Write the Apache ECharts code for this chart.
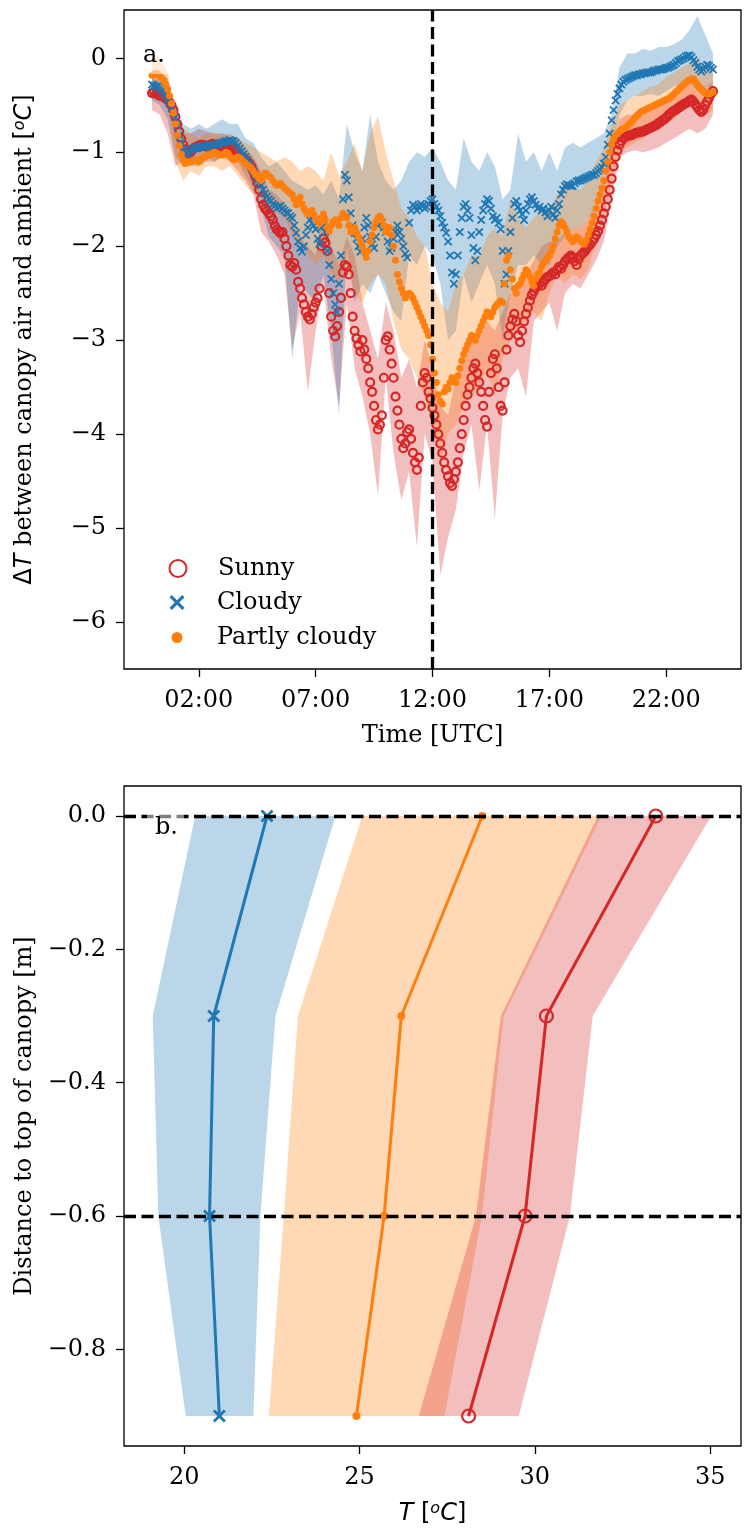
<!DOCTYPE html>
<html>
<head>
<meta charset="utf-8">
<script src="https://cdn.jsdelivr.net/npm/echarts@6/dist/echarts.min.js"></script>
<style>
  html, body { margin: 0; padding: 0; background: #fff; }
  #chart { width: 752px; height: 1532px; }
</style>
</head>
<body>
<div id="chart"></div>
<script>
// ---- panel a: mean dT every 5 minutes (00:00 .. 24:00), one row = one hour ----
const sunny = [
  -0.37, -0.36, -0.38, -0.38, -0.40, -0.39, -0.41, -0.43, -0.44, -0.47, -0.50, -0.55,
  -0.62, -0.70, -0.78, -0.86, -0.92, -0.97, -1.00, -1.02, -0.99, -0.97, -0.95, -0.94,
  -0.93, -0.92, -0.92, -0.93, -0.94, -0.93, -0.92, -0.91, -0.93, -0.94, -0.93, -0.95,
  -0.94, -0.95, -0.94, -0.96, -0.97, -0.96, -0.98, -0.99, -1.01, -1.03, -1.05, -1.06,
  -1.08, -1.10, -1.12, -1.15, -1.20, -1.26, -1.32, -1.40, -1.50, -1.56, -1.60, -1.62,
  -1.65, -1.68, -1.72, -1.78, -1.82, -1.84, -1.86, -1.85, -1.92, -2.00, -2.10, -2.20,
  -2.22, -2.18, -2.25, -2.38, -2.45, -2.55, -2.62, -2.70, -2.75, -2.78, -2.72, -2.65,
  -2.60, -2.55, -2.45, -2.00, -1.92, -1.96, -2.05, -2.50, -2.75, -2.90, -2.96, -2.85,
  -2.70, -2.55, -2.28, -2.20, -2.22, -2.30, -2.50, -2.75, -2.90, -2.98, -3.05, -3.12,
  -3.00, -3.10, -3.20, -3.30, -3.45, -3.55, -3.70, -3.85, -3.95, -3.90, -3.80, -3.40,
  -3.00, -2.96, -3.10, -3.25, -3.40, -3.60, -3.75, -3.90, -4.05, -4.15, -4.10, -3.98,
  -3.95, -4.05, -4.20, -4.30, -4.38, -4.25, -3.70, -3.45, -3.35, -3.40, -3.55, -3.62,
  -3.72, -3.80, -3.90, -4.00, -4.10, -4.20, -4.30, -4.38, -4.45, -4.52, -4.55, -4.48,
  -4.40, -4.30, -4.15, -4.00, -3.85, -3.70, -3.58, -3.50, -3.40, -3.30, -3.25, -3.35,
  -3.45, -3.55, -3.70, -3.85, -3.92, -3.55, -3.35, -3.20, -3.15, -3.30, -3.50, -3.70,
  -3.75, -3.45, -3.10, -2.95, -2.85, -2.78, -2.72, -2.80, -2.95, -3.02, -2.90, -2.80,
  -2.72, -2.65, -2.58, -2.52, -2.48, -2.44, -2.42, -2.40, -2.42, -2.38, -2.35, -2.33,
  -2.32, -2.30, -2.28, -2.30, -2.25, -2.22, -2.24, -2.20, -2.16, -2.14, -2.12, -2.10,
  -2.12, -2.16, -2.20, -2.14, -2.10, -2.08, -2.06, -2.03, -2.00, -1.98, -1.95, -1.92,
  -1.88, -1.84, -1.78, -1.72, -1.65, -1.58, -1.50, -1.40, -1.28, -1.15, -1.05, -0.98,
  -0.92, -0.88, -0.85, -0.84, -0.83, -0.82, -0.82, -0.81, -0.80, -0.79, -0.79, -0.78,
  -0.78, -0.77, -0.76, -0.75, -0.74, -0.73, -0.72, -0.71, -0.69, -0.68, -0.66, -0.65,
  -0.63, -0.61, -0.59, -0.57, -0.56, -0.55, -0.53, -0.52, -0.50, -0.49, -0.48, -0.47,
  -0.45, -0.44, -0.46, -0.49, -0.52, -0.55, -0.57, -0.55, -0.50, -0.46, -0.42, -0.38,
  -0.35
];
const cloudy = [
  -0.28, -0.29, -0.30, -0.30, -0.32, -0.34, -0.37, -0.40, -0.44, -0.48, -0.53, -0.58,
  -0.63, -0.72, -0.82, -0.90, -0.97, -1.00, -1.02, -1.00, -0.98, -0.96, -0.95, -0.96,
  -0.95, -0.94, -0.93, -0.95, -0.94, -0.93, -0.92, -0.93, -0.92, -0.91, -0.92, -0.90,
  -0.90, -0.89, -0.88, -0.88, -0.87, -0.88, -0.88, -0.90, -0.93, -0.96, -0.99, -1.02,
  -1.05, -1.08, -1.12, -1.16, -1.20, -1.25, -1.30, -1.32, -1.35, -1.40, -1.44, -1.47,
  -1.50, -1.52, -1.55, -1.57, -1.60, -1.58, -1.57, -1.60, -1.62, -1.64, -1.65, -1.68,
  -1.70, -1.78, -1.86, -1.95, -2.02, -2.06, -2.00, -1.88, -1.80, -1.72, -1.70, -1.78,
  -1.82, -1.92, -1.98, -1.80, -1.72, -1.85, -2.05, -2.20, -2.35, -2.50, -2.62, -2.70,
  -2.40, -2.10, -1.50, -1.24, -1.30, -1.48, -1.65, -1.78, -1.86, -1.92, -2.00, -2.06,
  -1.92, -1.80, -1.70, -1.78, -1.90, -1.98, -2.02, -1.90, -1.78, -1.72, -1.75, -1.80,
  -1.85, -1.95, -2.05, -2.02, -1.92, -1.85, -1.78, -1.85, -1.92, -2.00, -2.08, -2.12,
  -1.75, -1.62, -1.56, -1.58, -1.62, -1.58, -1.55, -1.57, -1.60, -1.58, -1.55, -1.52,
  -1.50, -1.55, -1.58, -1.62, -1.68, -1.75, -1.80, -1.86, -1.95, -2.10, -2.28, -2.40,
  -2.30, -2.10, -1.85, -1.70, -1.58, -1.55, -1.62, -1.70, -1.88, -2.02, -2.15, -2.05,
  -1.85, -1.72, -1.62, -1.55, -1.50, -1.52, -1.60, -1.68, -1.72, -1.70, -1.75, -1.82,
  -2.05, -2.40, -2.30, -2.05, -1.85, -1.70, -1.55, -1.52, -1.58, -1.62, -1.66, -1.72,
  -1.62, -1.55, -1.50, -1.48, -1.52, -1.56, -1.60, -1.58, -1.62, -1.60, -1.64, -1.68,
  -1.62, -1.58, -1.66, -1.70, -1.62, -1.55, -1.45, -1.40, -1.36, -1.34, -1.35, -1.36,
  -1.36, -1.33, -1.31, -1.30, -1.30, -1.29, -1.28, -1.27, -1.26, -1.25, -1.24, -1.24,
  -1.22, -1.20, -1.18, -1.16, -1.12, -1.05, -0.92, -0.80, -0.66, -0.55, -0.45, -0.38,
  -0.32, -0.28, -0.25, -0.23, -0.22, -0.21, -0.20, -0.19, -0.18, -0.18, -0.17, -0.17,
  -0.16, -0.16, -0.15, -0.15, -0.15, -0.14, -0.13, -0.13, -0.12, -0.12, -0.12, -0.11,
  -0.10, -0.10, -0.09, -0.08, -0.07, -0.05, -0.03, -0.02, -0.01, 0.00, 0.02, 0.03,
  0.03, 0.01, -0.02, -0.05, -0.09, -0.12, -0.14, -0.12, -0.09, -0.07, -0.08, -0.10,
  -0.12
];
const partly = [
  -0.18, -0.17, -0.16, -0.17, -0.19, -0.21, -0.24, -0.28, -0.33, -0.40, -0.48, -0.58,
  -0.70, -0.82, -0.93, -1.02, -1.08, -1.12, -1.11, -1.10, -1.10, -1.09, -1.08, -1.09,
  -1.10, -1.08, -1.06, -1.05, -1.04, -1.03, -1.02, -1.01, -1.00, -1.01, -1.02, -1.03,
  -1.03, -1.02, -1.00, -1.01, -1.04, -1.06, -1.08, -1.07, -1.05, -1.06, -1.08, -1.10,
  -1.12, -1.14, -1.15, -1.17, -1.20, -1.23, -1.25, -1.28, -1.30, -1.26, -1.22, -1.23,
  -1.25, -1.27, -1.30, -1.33, -1.35, -1.34, -1.33, -1.36, -1.38, -1.40, -1.42, -1.44,
  -1.45, -1.50, -1.56, -1.52, -1.48, -1.55, -1.60, -1.63, -1.66, -1.64, -1.62, -1.66,
  -1.70, -1.73, -1.76, -1.70, -1.66, -1.72, -1.80, -1.84, -1.78, -1.74, -1.72, -1.75,
  -1.78, -1.70, -1.65, -1.67, -1.70, -1.78, -1.85, -1.82, -1.80, -1.86, -1.90, -1.95,
  -2.00, -2.06, -2.12, -2.05, -1.95, -1.88, -1.80, -1.74, -1.70, -1.68, -1.72, -1.78,
  -1.85, -1.82, -1.80, -1.88, -2.00, -2.15, -2.30, -2.38, -2.45, -2.50, -2.55, -2.52,
  -2.50, -2.52, -2.55, -2.60, -2.65, -2.70, -2.75, -2.80, -2.85, -2.90, -2.95, -3.05,
  -3.20, -3.35, -3.45, -3.58, -3.65, -3.68, -3.55, -3.50, -3.52, -3.45, -3.40, -3.42,
  -3.45, -3.38, -3.30, -3.22, -3.15, -3.10, -3.05, -3.00, -2.95, -2.98, -3.00, -2.95,
  -2.90, -2.85, -2.80, -2.75, -2.70, -2.72, -2.75, -2.70, -2.65, -2.62, -2.60, -2.58,
  -2.60, -2.40, -2.15, -2.10, -2.25, -2.35, -2.45, -2.50, -2.42, -2.40, -2.35, -2.30,
  -2.25, -2.28, -2.32, -2.38, -2.42, -2.35, -2.30, -2.28, -2.22, -2.18, -2.15, -2.12,
  -2.10, -2.05, -2.00, -1.92, -1.85, -1.78, -1.74, -1.76, -1.80, -1.85, -1.90, -1.92,
  -1.95, -1.92, -1.90, -1.92, -1.94, -1.96, -1.98, -1.94, -1.88, -1.82, -1.75, -1.68,
  -1.60, -1.52, -1.45, -1.38, -1.30, -1.20, -1.10, -1.00, -0.92, -0.86, -0.82, -0.80,
  -0.78, -0.76, -0.75, -0.74, -0.72, -0.70, -0.68, -0.66, -0.63, -0.61, -0.59, -0.57,
  -0.56, -0.55, -0.54, -0.53, -0.52, -0.51, -0.50, -0.49, -0.48, -0.47, -0.46, -0.45,
  -0.44, -0.43, -0.42, -0.40, -0.38, -0.36, -0.34, -0.32, -0.30, -0.28, -0.26, -0.24,
  -0.23, -0.22, -0.22, -0.25, -0.28, -0.31, -0.33, -0.35, -0.37, -0.38, -0.38, -0.37,
  -0.36
];

// spread bands per 20 minutes, one row = one hour
const sunnyLo = [
  -0.55, -0.60, -0.80,  -1.15, -1.10, -1.05,  -1.10, -1.05, -1.10,  -1.05, -1.10, -1.20,
  -1.30, -1.45, -1.85,  -1.95, -2.10, -2.30,  -3.10, -2.70, -3.55,  -2.90, -2.40, -3.20,
  -3.70, -2.60, -3.30,  -3.60, -4.00, -4.65,  -3.40, -4.20, -4.70,  -4.40, -5.20, -4.00,
  -4.30, -5.50, -5.10,  -4.80, -4.20, -3.90,  -4.60, -3.90, -4.90,  -3.80, -3.40, -3.30,
  -3.60, -2.80, -2.70,  -2.60, -2.90, -2.50,  -2.40, -2.45, -2.30,  -2.15, -1.95, -1.50,
  -1.05, -1.00, -0.98,  -1.00, -0.98, -0.95,  -0.90, -0.85, -0.80,  -0.75, -0.80, -0.75,
  -0.60
];
const sunnyHi = [
  -0.20, -0.25, -0.30,  -0.55, -0.80, -0.80,  -0.75, -0.78, -0.80,  -0.80, -0.82, -0.85,
  -0.95, -1.05, -1.20,  -1.40, -1.45, -1.55,  -1.70, -1.90, -2.00,  -2.10, -1.60, -2.00,
  -2.20, -1.90, -2.10,  -2.60, -2.90, -3.20,  -2.60, -2.90, -3.40,  -3.20, -3.50, -3.00,
  -3.30, -3.70, -3.80,  -3.40, -3.20, -2.90,  -3.00, -2.80, -2.90,  -2.70, -2.50, -2.40,
  -2.30, -2.15, -2.00,  -1.95, -1.95, -1.85,  -1.80, -1.80, -1.70,  -1.55, -1.35, -1.00,
  -0.65, -0.60, -0.60,  -0.55, -0.50, -0.45,  -0.40, -0.35, -0.30,  -0.25, -0.25, -0.30,
  -0.25
];
const cloudyLo = [
  -0.45, -0.50, -0.65,  -1.05, -1.15, -1.15,  -1.15, -1.10, -1.10,  -1.05, -1.05, -1.10,
  -1.25, -1.40, -1.60,  -1.90, -2.00, -2.10,  -3.20, -2.40, -2.50,  -2.60, -2.30, -2.90,
  -3.80, -2.00, -2.60,  -2.40, -2.50, -2.30,  -2.50, -2.70, -2.80,  -2.10, -2.20, -2.00,
  -2.10, -2.40, -3.00,  -2.90, -2.30, -2.60,  -2.40, -2.20, -2.40,  -3.00, -2.50, -2.20,
  -2.20, -2.10, -2.20,  -2.20, -2.00, -1.90,  -1.80, -1.80, -1.70,  -1.60, -1.40, -1.10,
  -0.60, -0.45, -0.40,  -0.40, -0.38, -0.40,  -0.35, -0.30, -0.28,  -0.25, -0.35, -0.30,
  -0.30
];
const cloudyHi = [
  -0.15, -0.15, -0.20,  -0.60, -0.70, -0.75,  -0.70, -0.75, -0.70,  -0.65, -0.70, -0.70,
  -0.85, -0.90, -1.05,  -1.15, -1.10, -1.20,  -1.30, -1.35, -1.40,  -1.35, -1.45, -1.30,
  -1.50, -0.70, -1.00,  -1.20, -0.60, -1.10,  -1.30, -1.40, -1.30,  -1.10, -1.00, -1.05,
  -0.95, -1.10, -1.30,  -1.40, -0.85, -1.10,  -1.20, -1.00, -1.15,  -1.50, -1.40, -0.80,
  -1.10, -1.00, -1.20,  -1.00, -1.20, -0.95,  -0.90, -0.95, -0.90,  -0.85, -0.80, -0.60,
  -0.10, 0.05, 0.05,  0.10, 0.08, 0.12,  0.12, 0.15, 0.20,  0.30, 0.45, 0.25,
  0.05
];
const partlyLo = [
  -0.30, -0.35, -0.55,  -1.10, -1.30, -1.20,  -1.25, -1.15, -1.15,  -1.20, -1.15, -1.25,
  -1.35, -1.45, -1.45,  -1.60, -1.65, -1.70,  -1.90, -1.95, -2.10,  -2.20, -2.10, -2.30,
  -2.40, -2.20, -2.50,  -2.60, -2.40, -2.30,  -2.40, -2.80, -3.10,  -3.20, -3.40, -3.60,
  -3.90, -4.30, -4.00,  -3.90, -3.70, -3.60,  -3.50, -3.30, -3.60,  -3.20, -3.00, -2.90,
  -2.80, -2.70, -2.80,  -2.50, -2.30, -2.40,  -2.30, -2.35, -2.25,  -1.95, -1.70, -1.30,
  -1.00, -0.95, -0.90,  -0.85, -0.80, -0.75,  -0.70, -0.65, -0.55,  -0.50, -0.55, -0.60,
  -0.55
];
const partlyHi = [
  0.05, 0.00, -0.15,  -0.55, -0.75, -0.80,  -0.85, -0.80, -0.80,  -0.82, -0.80, -0.85,
  -0.90, -0.95, -1.00,  -1.05, -1.10, -1.05,  -1.10, -1.20, -1.15,  -1.20, -1.30, -1.00,
  -1.25, -1.10, -0.90,  -1.20, -0.80, -0.62,  -1.00, -1.30, -1.60,  -1.70, -1.90, -2.00,
  -2.40, -2.60, -2.70,  -2.40, -2.30, -2.10,  -2.10, -1.90, -1.80,  -1.90, -1.50, -1.70,
  -1.80, -1.70, -1.60,  -1.60, -1.45, -1.30,  -1.40, -1.40, -1.30,  -1.10, -0.95, -0.70,
  -0.50, -0.45, -0.40,  -0.35, -0.30, -0.28,  -0.20, -0.15, -0.10,  -0.05, 0.00, -0.10,
  -0.15
];

const timeTicks = [2, 7, 12, 17, 22];
const dTTicks = [-6, -5, -4, -3, -2, -1, 0];
const noonLine = 12;

// ---- panel b: profiles ----
const depth = [0, -0.3, -0.6, -0.9];
const profSunny = [33.45, 30.33, 29.72, 28.11];
const profSunnyLo = [31.80, 29.03, 28.32, 26.69];
const profSunnyHi = [35.03, 31.65, 31.00, 29.54];
const profCloudy = [22.36, 20.84, 20.72, 21.00];
const profCloudyLo = [20.31, 19.10, 19.26, 20.04];
const profCloudyHi = [24.31, 22.60, 22.17, 21.97];
const profPartly = [28.50, 26.19, 25.70, 24.91];
const profPartlyLo = [25.08, 23.24, 22.84, 22.41];
const profPartlyHi = [31.90, 29.11, 28.49, 27.42];
const tempTicks = [20, 25, 30, 35];
const depthTicks = [0, -0.2, -0.4, -0.6, -0.8];
const refDepths = [0, -0.6];

const RED = '#d62728', BLUE = '#1f77b4', ORANGE = '#ff7f0e';
const SERIF = '"DejaVu Serif", serif';
const SANS = '"DejaVu Sans", sans-serif';
const XMARK = 'path://M1.5,0 L5,3.5 L8.5,0 L10,1.5 L6.5,5 L10,8.5 L8.5,10 L5,6.5 L1.5,10 L0,8.5 L3.5,5 L0,1.5 Z';

const minus = (s) => String(s).replace('-', '\u2212');

const chart = echarts.init(document.getElementById('chart'));

// band in panel a, built from the lo/hi arrays through the axes
function timeBand(lo, hi, color) {
  return {
    type: 'custom', xAxisIndex: 0, yAxisIndex: 0, silent: true, z: 1,
    data: [[0, 0]],
    renderItem: function (params, api) {
      const pts = [];
      for (let i = 0; i < hi.length; i++) pts.push(api.coord([i / 3, hi[i]]));
      for (let i = lo.length - 1; i >= 0; i--) pts.push(api.coord([i / 3, lo[i]]));
      return { type: 'polygon', shape: { points: pts }, style: { fill: color, opacity: 0.3 } };
    }
  };
}

// band in panel b (horizontal spread at each depth)
function depthBand(lo, hi, color) {
  return {
    type: 'custom', xAxisIndex: 1, yAxisIndex: 1, silent: true, z: 1,
    data: [[0, 0]],
    renderItem: function (params, api) {
      const pts = [];
      for (let i = 0; i < depth.length; i++) pts.push(api.coord([lo[i], depth[i]]));
      for (let i = depth.length - 1; i >= 0; i--) pts.push(api.coord([hi[i], depth[i]]));
      return { type: 'polygon', shape: { points: pts }, style: { fill: color, opacity: 0.3 } };
    }
  };
}

const axisCommon = {
  axisLine: { show: false, onZero: false },
  axisTick: { show: true, length: 8, lineStyle: { color: '#000', width: 1.3 } },
  splitLine: { show: false },
  axisLabel: { color: '#000', fontFamily: SERIF, fontSize: 24, margin: 18 }
};

const mathRich = {
  r: { fontFamily: SANS, fontSize: 24, color: '#000' },
  i: { fontFamily: SANS, fontSize: 24, fontStyle: 'italic', color: '#000' },
  s: { fontFamily: SERIF, fontSize: 24, color: '#000' },
  sup: { fontFamily: SANS, fontSize: 16, fontStyle: 'italic', color: '#000', verticalAlign: 'top', padding: [0, 0, 10, 0] }
};

function legendItem(name, top, icon, size, itemStyle) {
  return {
    left: 172 - size / 2, top: top - size / 2, orient: 'vertical',
    itemWidth: size, itemHeight: size, selectedMode: false,
    data: [{ name: name, icon: icon, itemStyle: itemStyle }],
    textStyle: { fontFamily: SERIF, fontSize: 24, color: '#000', padding: [0, 0, 0, 35 - size / 2] }
  };
}

const option = {
  animation: false,
  backgroundColor: '#fff',
  grid: [
    { left: 124, top: 10, width: 617, height: 659, show: true, borderColor: '#000', borderWidth: 1.3, backgroundColor: 'transparent' },
    { left: 124, top: 786, width: 617, height: 660, show: true, borderColor: '#000', borderWidth: 1.3, backgroundColor: 'transparent' }
  ],
  legend: [
    legendItem('Sunny', 560, 'circle', 17, { color: 'rgba(0,0,0,0)', borderColor: RED, borderWidth: 2 }),
    legendItem('Cloudy', 593, XMARK, 15, { color: BLUE }),
    legendItem('Partly cloudy', 626, 'circle', 11, { color: ORANGE })
  ],
  xAxis: [
    Object.assign({}, axisCommon, {
      gridIndex: 0, type: 'value', min: -1.2, max: 25.2,
      axisTick: Object.assign({}, axisCommon.axisTick, { customValues: timeTicks }),
      axisLabel: Object.assign({}, axisCommon.axisLabel, {
        margin: 20, customValues: timeTicks,
        formatter: (v) => (v < 10 ? '0' : '') + v + ':00'
      }),
      name: 'Time [UTC]', nameLocation: 'middle', nameGap: 55,
      nameTextStyle: { fontFamily: SERIF, fontSize: 24, color: '#000' }
    }),
    Object.assign({}, axisCommon, {
      gridIndex: 1, type: 'value', min: 18.28, max: 35.88,
      axisTick: Object.assign({}, axisCommon.axisTick, { customValues: tempTicks }),
      axisLabel: Object.assign({}, axisCommon.axisLabel, { margin: 20, customValues: tempTicks }),
      name: '{i|T}{r| [}{sup|o}{i|C}{r|]}', nameLocation: 'middle', nameGap: 55,
      nameTextStyle: { rich: mathRich }
    })
  ],
  yAxis: [
    Object.assign({}, axisCommon, {
      gridIndex: 0, type: 'value', min: -6.5, max: 0.514,
      axisTick: Object.assign({}, axisCommon.axisTick, { customValues: dTTicks }),
      axisLabel: Object.assign({}, axisCommon.axisLabel, {
        customValues: dTTicks, formatter: (v) => minus(v)
      }),
      name: '{r|\u0394}{i|T}{s| between canopy air and ambient }{r|[}{sup|o}{i|C}{r|]}',
      nameLocation: 'middle', nameGap: 86, nameTextStyle: { rich: mathRich }
    }),
    Object.assign({}, axisCommon, {
      gridIndex: 1, type: 'value', min: -0.945, max: 0.045,
      axisTick: Object.assign({}, axisCommon.axisTick, { customValues: depthTicks }),
      axisLabel: Object.assign({}, axisCommon.axisLabel, {
        customValues: depthTicks, formatter: (v) => minus(v.toFixed(1))
      }),
      name: 'Distance to top of canopy [m]',
      nameLocation: 'middle', nameGap: 86,
      nameTextStyle: { fontFamily: SERIF, fontSize: 24, color: '#000' }
    })
  ],
  graphic: [
    { type: 'text', left: 135, top: 38, z: 50,
      style: { text: 'a.', font: '24px "DejaVu Serif"', fill: '#000', backgroundColor: 'rgba(255,255,255,0.5)', padding: [6, 6, 6, 8] } },
    { type: 'text', left: 147, top: 810, z: 50,
      style: { text: 'b.', font: '24px "DejaVu Serif"', fill: '#000', backgroundColor: 'rgba(255,255,255,0.5)', padding: [6, 6, 6, 8] } }
  ],
  series: [
    timeBand(sunnyLo, sunnyHi, RED),
    timeBand(cloudyLo, cloudyHi, BLUE),
    timeBand(partlyLo, partlyHi, ORANGE),
    {
      name: 'Sunny', type: 'scatter', xAxisIndex: 0, yAxisIndex: 0, z: 3,
      data: sunny.map((v, i) => [i / 12, v]),
      symbol: 'circle', symbolSize: 8,
      itemStyle: { color: 'rgba(0,0,0,0)', borderColor: RED, borderWidth: 2.2, opacity: 1 }
    },
    {
      name: 'Cloudy', type: 'scatter', xAxisIndex: 0, yAxisIndex: 0, z: 3,
      data: cloudy.map((v, i) => [i / 12, v]),
      symbol: XMARK, symbolSize: 8.5,
      itemStyle: { color: BLUE, opacity: 1 }
    },
    {
      name: 'Partly cloudy', type: 'scatter', xAxisIndex: 0, yAxisIndex: 0, z: 3,
      data: partly.map((v, i) => [i / 12, v]),
      symbol: 'circle', symbolSize: 7,
      itemStyle: { color: ORANGE, opacity: 1 }
    },
    {
      name: 'noon', type: 'line', xAxisIndex: 0, yAxisIndex: 0, z: 6, data: [],
      markLine: {
        silent: true, symbol: 'none', label: { show: false },
        lineStyle: { color: '#000', width: 3.3, type: [12, 5.5] },
        data: [{ xAxis: noonLine }]
      }
    },
    depthBand(profCloudyLo, profCloudyHi, BLUE),
    depthBand(profPartlyLo, profPartlyHi, ORANGE),
    depthBand(profSunnyLo, profSunnyHi, RED),
    {
      name: 'levels', type: 'line', xAxisIndex: 1, yAxisIndex: 1, z: 2, data: [],
      markLine: {
        silent: true, symbol: 'none', label: { show: false },
        lineStyle: { color: '#000', width: 3.3, type: [12, 5.5] },
        data: refDepths.map((d) => ({ yAxis: d }))
      }
    },
    {
      name: 'Cloudy profile', type: 'line', xAxisIndex: 1, yAxisIndex: 1, z: 3,
      data: profCloudy.map((t, i) => [t, depth[i]]),
      symbol: XMARK, symbolSize: 13, showAllSymbol: true,
      lineStyle: { color: BLUE, width: 3 }, itemStyle: { color: BLUE }
    },
    {
      name: 'Partly cloudy profile', type: 'line', xAxisIndex: 1, yAxisIndex: 1, z: 3,
      data: profPartly.map((t, i) => [t, depth[i]]),
      symbol: 'circle', symbolSize: 8,
      lineStyle: { color: ORANGE, width: 3 }, itemStyle: { color: ORANGE }
    },
    {
      name: 'Sunny profile', type: 'line', xAxisIndex: 1, yAxisIndex: 1, z: 3,
      data: profSunny.map((t, i) => [t, depth[i]]),
      symbol: 'circle', symbolSize: 13,
      lineStyle: { color: RED, width: 3 },
      itemStyle: { color: 'rgba(0,0,0,0)', borderColor: RED, borderWidth: 2.2 }
    }
  ]
};

chart.setOption(option);
</script>
</body>
</html>
